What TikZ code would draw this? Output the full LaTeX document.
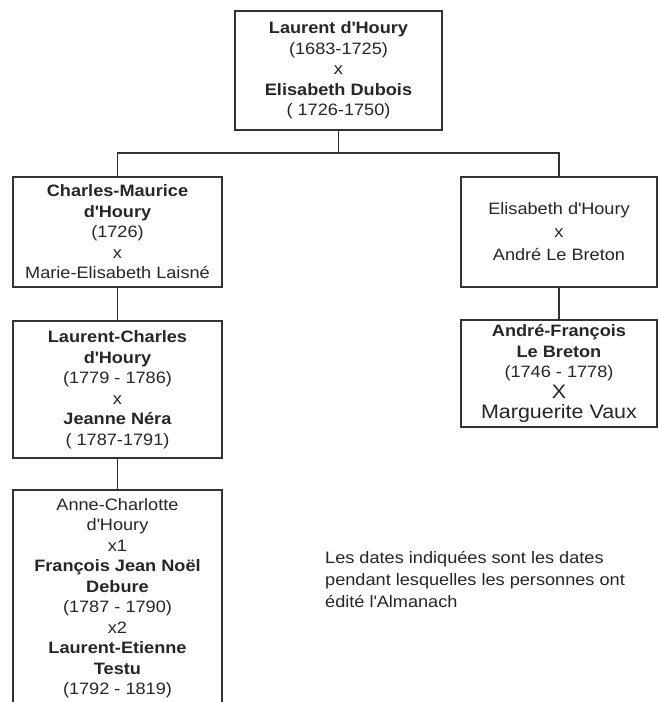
\documentclass[tikz,border=0pt]{standalone}
\usepackage{fontspec}
\setmainfont{Liberation Sans}[FakeStretch=1.1]
\usepackage{tikz}
\usetikzlibrary{calc}

\newcommand\gen{\fontsize{16.5}{20.5}\selectfont}
\newcommand\notefont{\fontsize{16.5}{22}\selectfont}
\newcommand\bigtxt{\fontsize{19.5}{20.5}\selectfont}
\newcommand\q{\textquotesingle}

\begin{document}
\begin{tikzpicture}[x=1pt,y=-1pt,
  person/.style={draw=black!80,line width=1.5pt,align=center,font=\gen,text=black!85,inner sep=0pt},
  link/.style={draw=black!80,line width=1.5pt}]
\clip (0,0) rectangle (659,702);
\fill[white] (0,0) rectangle (659,702);
\node[person,minimum width=207,minimum height=119] (top) at (338.5,70.5)
  {\textbf{Laurent d\q Houry}\\(1683-1725)\\x\\\textbf{Elisabeth Dubois}\\( 1726-1750)};
\node[person,minimum width=209,minimum height=110] (cm) at (117.5,232)
  {\textbf{Charles-Maurice}\\\textbf{d\q Houry}\\(1726)\\x\\Marie-Elisabeth Laisné};
\node[person,minimum width=196,minimum height=110] (eh) at (559,232)
  {Elisabeth d\q Houry\\[2.5pt]x\\[2.5pt]André Le Breton};
\node[person,minimum width=209,minimum height=137] (lc) at (117.5,389.5)
  {\textbf{Laurent-Charles}\\\textbf{d\q Houry}\\(1779 - 1786)\\x\\\textbf{Jeanne Néra}\\( 1787-1791)};
\node[person,minimum width=196,minimum height=107] (af) at (559,373.5)
  {\textbf{André-François}\\\textbf{Le Breton}\\(1746 - 1778)\\{\bigtxt X}\\{\bigtxt Marguerite Vaux}};
\node[person,minimum width=209,minimum height=216] (ac) at (117.5,598)
  {Anne-Charlotte\\d\q Houry\\x1\\\textbf{François Jean Noël}\\\textbf{Debure}\\(1787 - 1790)\\x2\\
   \textbf{Laurent-Etienne}\\\textbf{Testu}\\(1792 - 1819)};
\node[anchor=north west,align=left,font=\notefont,text=black!85,inner sep=0pt] (note) at (325,551)
  {Les dates indiquées sont les dates\\pendant lesquelles les personnes ont\\édité l\q Almanach};
\path (top.south) ++(0,22) coordinate (fork);
\draw[link] (top.south) -- (fork);
\draw[link] (cm.north) |- (fork) -| (eh.north);
\draw[link] (cm) -- (lc);
\draw[link] (lc) -- (ac);
\draw[link] (eh) -- (af);
\end{tikzpicture}
\end{document}
